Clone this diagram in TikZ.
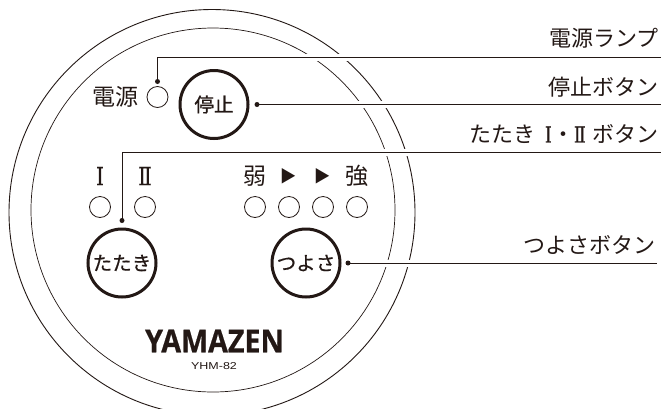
\documentclass[tikz,border=0pt]{standalone}
\usepackage{fontspec}
\newfontfamily\jpfont{Noto Sans CJK JP}
\newfontfamily\jpheavy[FakeBold=0.7]{Noto Sans CJK JP}
\newfontfamily\numfont[FakeStretch=0.8,FakeBold=0.5]{DejaVu Serif}
\newfontfamily\logofont[FakeStretch=0.91,FakeBold=0.6]{Open Sans Bold}
\newfontfamily\modelfont[FakeStretch=1.25]{Liberation Sans}
\setmainfont{Liberation Sans}
\definecolor{ink}{HTML}{231815}
\tikzset{
  lamp/.style = {circle, draw = ink, line width = 0.8pt, minimum size = 21pt, inner sep = 0pt},
  button/.style = {circle, draw = ink, line width = 3pt, minimum size = 68pt, inner sep = 0pt,
    font = \jpheavy\fontsize{19.5}{20}\selectfont, text = ink},
  tag/.style = {font = \jpfont\fontsize{22}{24}\selectfont, text = ink, inner sep = 0pt},
  paneltext/.style = {font = \jpfont\fontsize{23}{24}\selectfont, text = ink, inner sep = 0pt},
  numtext/.style = {font = \numfont\fontsize{25}{25}\selectfont, text = ink, inner sep = 0pt},
  arrowtext/.style = {font = \jpfont\fontsize{16.5}{24}\selectfont, text = ink, inner sep = 0pt},
  dot/.style = {circle, fill = ink, minimum size = 5pt, inner sep = 0pt},
  leader/.style = {draw = ink, line width = 0.9pt, preaction = {draw = white, line width = 7pt}}
}

\begin{document}
\begin{tikzpicture}[x = 1pt, y = -1pt]
  \clip (0,0) rectangle (664,408);
  \fill[white] (0,0) rectangle (664,408);
  \draw[ink, line width = 0.9pt] (212,212.5) circle [radius = 203];
  \draw[ink, line width = 0.7pt] (213,210) circle [radius = 182];

  % lamps
  \node[lamp] (power) at (157.5,97) {};
  \node[lamp] (one) at (100,207) {};
  \node[lamp] (two) at (145,207) {};
  \node[lamp] (levelA) at (255,207) {};
  \node[lamp] (levelB) at (289,207) {};
  \node[lamp] (levelC) at (323,207) {};
  \node[lamp] (levelD) at (357,207) {};

  % panel text
  \node[paneltext] (powerText) at (115,97) {電源};
  \node[numtext] (oneText) at (100,176) {Ⅰ};
  \node[numtext] (twoText) at (145,176) {Ⅱ};
  \node[paneltext] (weak) at (255,176) {弱};
  \node[arrowtext] (arrowA) at (288,176) {▶};
  \node[arrowtext] (arrowB) at (322,176) {▶};
  \node[paneltext] (strong) at (357,176) {強};

  % buttons
  \node[button] (stop) at (214,104.5) {停止};
  \node[button] (tataki) at (122,263) {たたき};
  \node[button] (tsuyosa) at (306,263) {つよさ};

  \node[font = \logofont\fontsize{31.5}{32}\selectfont, text = ink, inner sep = 0pt] (logo) at (214.5,341) {YAMAZEN};
  \node[font = \modelfont\fontsize{10}{11}\selectfont, text = ink, inner sep = 0pt] (model) at (214,366) {YHM-82};

  % leaders
  \coordinate (powerStart) at (157.5,81.5);
  \coordinate (stopStart) at (257,104.5);
  \coordinate (tatakiStart) at (122,220.5);
  \coordinate (tsuyosaStart) at (348,263);
  \coordinate (powerEnd) at (661,57);
  \coordinate (stopEnd) at (661,104.5);
  \coordinate (tatakiEnd) at (661,152);
  \coordinate (tsuyosaEnd) at (657,263);
  \draw[leader] (powerStart) |- (powerEnd);
  \draw[leader] (stopStart) -- (stopEnd);
  \draw[leader] (tatakiStart) |- (tatakiEnd);
  \draw[leader] (tsuyosaStart) -- (tsuyosaEnd);
  \node[dot] (powerDot) at (powerStart) {};
  \node[dot] (stopDot) at (stopStart) {};
  \node[dot] (tatakiDot) at (tatakiStart) {};
  \node[dot] (tsuyosaDot) at (tsuyosaStart) {};

  % labels
  \node[tag, anchor = east] (powerLabel) at (659,38) {電源ランプ};
  \node[tag, anchor = east] (stopLabel) at (659,87) {停止ボタン};
  \node[tag, anchor = east] (tatakiLabel) at (659,134) {たたき\kern9pt{\numfont Ⅰ}\kern1pt・\kern-1pt{\numfont Ⅱ}\kern7pt ボタン};
  \node[tag, anchor = east] (tsuyosaLabel) at (656,245) {つよさボタン};
\end{tikzpicture}
\end{document}
